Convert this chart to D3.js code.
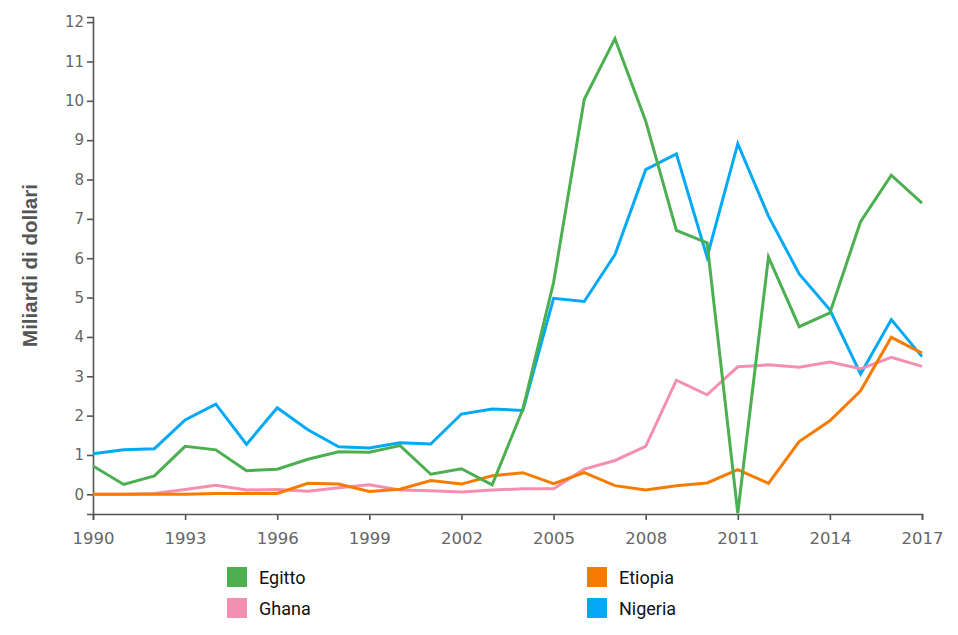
<!DOCTYPE html>
<html>
<head>
<meta charset="utf-8">
<script src="https://cdn.jsdelivr.net/npm/d3@7"></script>
<style>
  body { margin: 0; background: #fff; }
  .tick text { font-family: "DejaVu Sans", sans-serif; font-size: 16.5px; fill: #666; }
  .y-axis .tick text { font-size: 15px; }
  .domain, .tick line { stroke: #555; stroke-width: 1.6; }
</style>
</head>
<body>
<div id="chart"></div>
<script>
const years = d3.range(1990, 2018);
const yearTicks = [1990, 1993, 1996, 1999, 2002, 2005, 2008, 2011, 2014, 2017];
const valueTicks = [0, 1, 2, 3, 4, 5, 6, 7, 8, 9, 10, 11, 12];

const egitto = [0.72, 0.25, 0.47, 1.22, 1.13, 0.6, 0.64, 0.89, 1.08, 1.07, 1.24, 0.51, 0.65, 0.24,
  2.16, 5.38, 10.04, 11.58, 9.49, 6.71, 6.39, -0.48, 6.03, 4.26, 4.61, 6.93, 8.11, 7.4];
const nigeria = [1.03, 1.13, 1.16, 1.89, 2.29, 1.27, 2.2, 1.64, 1.21, 1.18, 1.31, 1.28, 2.04, 2.17,
  2.13, 4.98, 4.9, 6.09, 8.25, 8.65, 6.03, 8.91, 7.07, 5.6, 4.69, 3.06, 4.44, 3.5];
const etiopia = [0.0, 0.0, 0.0, 0.0, 0.02, 0.02, 0.02, 0.28, 0.26, 0.07, 0.13, 0.35, 0.26, 0.47,
  0.55, 0.27, 0.55, 0.22, 0.11, 0.22, 0.29, 0.63, 0.28, 1.34, 1.87, 2.63, 3.99, 3.59];
const ghana = [0.0, 0.0, 0.02, 0.12, 0.23, 0.11, 0.12, 0.08, 0.17, 0.24, 0.11, 0.09, 0.06, 0.11,
  0.14, 0.14, 0.64, 0.86, 1.22, 2.9, 2.53, 3.24, 3.29, 3.23, 3.36, 3.19, 3.48, 3.25];

const series = [
  { name: "Egitto", values: egitto, color: "#4caf50" },
  { name: "Ghana", values: ghana, color: "#f48fb1" },
  { name: "Etiopia", values: etiopia, color: "#f57c00" },
  { name: "Nigeria", values: nigeria, color: "#03a9f4" }
];
// draw order: blue under green etc.
const drawOrder = ["Nigeria", "Ghana", "Etiopia", "Egitto"];

const width = 958, height = 635;
const margin = { left: 93, right: 36, top: 17, bottom: 121 };

const svg = d3.select("#chart").append("svg")
  .attr("width", width)
  .attr("height", height);

const x = d3.scaleLinear()
  .domain([1990, 2017])
  .range([margin.left, width - margin.right]);

const y = d3.scaleLinear()
  .domain([-0.5, 12.13])
  .range([height - margin.bottom, margin.top]);

// axes
const xAxis = svg.append("g")
  .attr("transform", `translate(0,${height - margin.bottom})`)
  .call(d3.axisBottom(x).tickValues(yearTicks).tickFormat(d3.format("d")));
xAxis.selectAll("text").attr("y", 18);

svg.append("g")
  .attr("class", "y-axis")
  .attr("transform", `translate(${margin.left},0)`)
  .call(d3.axisLeft(y).tickValues(valueTicks));

svg.append("text")
  .attr("transform", `translate(37,${(y(12.13) + y(-0.5)) / 2}) rotate(-90)`)
  .attr("text-anchor", "middle")
  .style("font-family", "'Liberation Sans', Arial, sans-serif")
  .style("font-weight", "bold")
  .style("font-size", "20.5px")
  .style("fill", "#555")
  .text("Miliardi di dollari");

// lines
const line = d3.line()
  .x((d, i) => x(years[i]))
  .y(d => y(d));

drawOrder.forEach(name => {
  const s = series.find(d => d.name === name);
  svg.append("path")
    .attr("d", line(s.values))
    .attr("fill", "none")
    .attr("stroke", s.color)
    .attr("stroke-width", 3)
    .attr("stroke-linejoin", "miter");
});

// legend
const legendPos = [[227, 567], [227, 598], [587, 567], [587, 598]];
series.forEach((s, i) => {
  const g = svg.append("g").attr("transform", `translate(${legendPos[i][0]},${legendPos[i][1]})`);
  g.append("rect")
    .attr("width", 20)
    .attr("height", 20)
    .attr("fill", s.color);
  g.append("text")
    .attr("x", 32)
    .attr("y", 17)
    .style("font-family", "Roboto, sans-serif")
    .style("font-size", "18px")
    .style("fill", "#111")
    .text(s.name);
});
</script>
</body>
</html>
